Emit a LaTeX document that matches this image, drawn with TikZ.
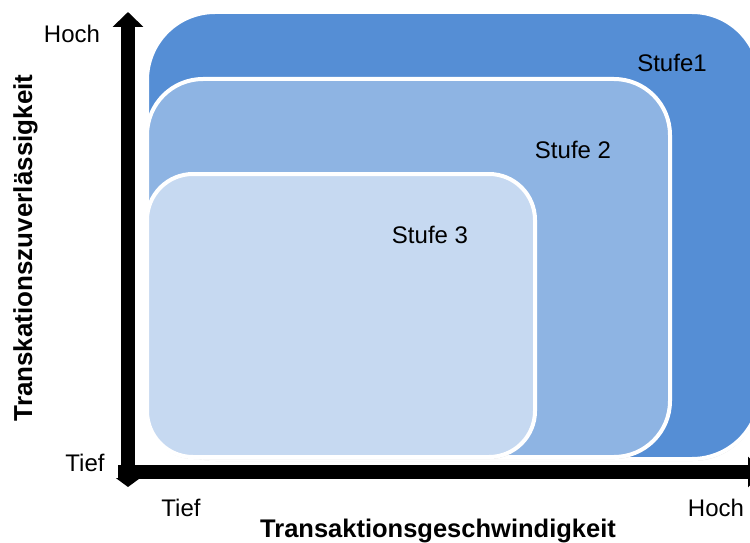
\documentclass[tikz,border=0pt]{standalone}
\usepackage{fontspec}
\setmainfont{Liberation Sans}
\usetikzlibrary{arrows.meta,shadows}

\definecolor{tierA}{RGB}{85,142,213}
\definecolor{tierB}{RGB}{142,180,227}
\definecolor{tierC}{RGB}{198,217,241}

\begin{document}
\begin{tikzpicture}[x=1pt,y=-1pt,
  tier/.style={draw=white, line width=4pt,
    drop shadow={opacity=0.25, shadow xshift=0.5pt, shadow yshift=-2pt}},
  axisline/.style={line width=14pt, black},
  lbl/.style={font=\fontsize{24}{28}\selectfont, anchor=base, inner sep=0pt},
  axistitle/.style={font=\fontsize{25.5}{30}\selectfont\bfseries, anchor=base, inner sep=0pt}]
\useasboundingbox (0,0) rectangle (750,543);

% nested levels
\path[tier, fill=tierA, rounded corners=68pt] (147,12) rectangle (760,459);
\path[tier, fill=tierB, rounded corners=56pt] (147,79) rectangle (670,457);
\path[tier, fill=tierC, rounded corners=46pt] (147,174) rectangle (535,457);

% axes
\coordinate (ybottom) at (128,487);
\coordinate (ytop) at (128,12);
\coordinate (xstart) at (118,472);
\coordinate (xend) at (763,472);
\draw[axisline, {Triangle[width=24pt,length=9pt]}-{Triangle[width=30pt,length=15pt]}] (ybottom) -- (ytop);
\draw[axisline, -{Triangle[width=30pt,length=15pt]}] (xstart) -- (xend);

% level labels
\node[lbl] (s1) at (672,72) {Stufe1};
\node[lbl] (s2) at (573,158) {Stufe 2};
\node[lbl] (s3) at (430,243) {Stufe 3};

% axis labels
\node[lbl] (yhigh) at (72,43) {Hoch};
\node[lbl] (ylow) at (85,471) {Tief};
\node[lbl] (xlow) at (181,516) {Tief};
\node[lbl] (xhigh) at (716,516) {Hoch};
\node[axistitle] (xtitle) at (438,537) {Transaktionsgeschwindigkeit};
\node[axistitle, font=\fontsize{26}{30}\selectfont\bfseries, rotate=90] (ytitle) at (32,248) {Transkationszuverlässigkeit};
\end{tikzpicture}
\end{document}
